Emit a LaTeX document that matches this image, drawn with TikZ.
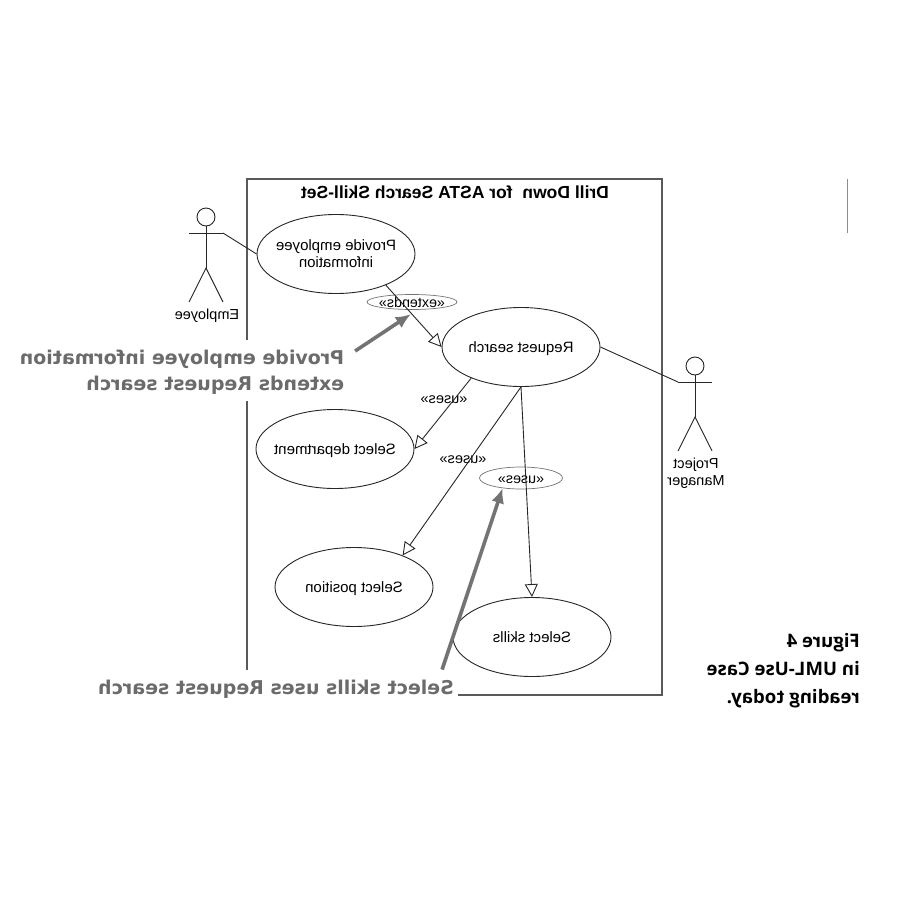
\documentclass[tikz,border=0pt]{standalone}
\usepackage{graphicx}
\usepackage{fontspec}
\setmainfont{Liberation Sans}
\newfontfamily\hintfont{DejaVu Sans}
\newfontfamily\notefont{Open Sans}
\usetikzlibrary{arrows.meta, shapes.geometric}

% mirrored text, centred or flush left before the flip
\newcommand{\flipc}[1]{\raisebox{-2pt}[\height][\depth]{\reflectbox{\begin{tabular}{@{}c@{}}#1\end{tabular}}}}
\newcommand{\flipl}[1]{\raisebox{-2pt}[\height][\depth]{\reflectbox{\begin{tabular}{@{}l@{}}#1\end{tabular}}}}

\tikzset{
    usecase/.style={draw=black!85, line width=0.9pt, ellipse, inner sep=-5pt, minimum width=158pt, minimum height=79pt, font=\fontsize{15}{17}\selectfont},
    marked/.style={draw=black!55, line width=0.7pt, ellipse, inner sep=-5pt, font=\fontsize{14.3}{16}\selectfont},
    plain/.style={inner sep=0pt, font=\fontsize{14.5}{17}\selectfont},
    hint/.style={fill=white, inner sep=4pt, text=black!58, font=\hintfont\bfseries\fontsize{19}{26.5}\selectfont},
    hintarrow/.style={draw=black!55, line width=3.6pt, -{Latex[length=15pt,width=13pt]}},
    link/.style={draw=black!85, line width=0.9pt},
    assoc/.style={link, -{Triangle[open,length=13pt,width=13pt]}},
    actor/.pic={
        \node[draw=black!85, line width=0.9pt, circle, inner sep=0pt, minimum size=18pt] (-head) at (0,0) {};
        \coordinate (-hip) at (0,51);
        \coordinate (-larm) at (-17,16);
        \coordinate (-rarm) at (17,16);
        \draw[link] (-head) -- (-hip);
        \draw[link] (-larm) -- (-rarm);
        \draw[link] (-17,85) -- (-hip) -- (17,85);
    }
}

\begin{document}
\begin{tikzpicture}[x=1pt, y=-1pt]
    \useasboundingbox (0,0) rectangle (900,900);
    % System frame
    \node[draw=black!65, line width=1.2pt, inner sep=0pt, minimum width=415pt, minimum height=516pt] (system) at (454.5,437) {};
    \node[plain, font=\bfseries\fontsize{17.5}{20}\selectfont] (title) at (455,192) {\flipc{Drill Down\ \ for ASTA Search Skill-Set}};

    % Use cases
    \node[usecase] (provide) at (336,254) {\flipc{Provide employee\\information}};
    \node[usecase] (request) at (521,347) {\flipc{Request search}};
    \node[usecase] (dept) at (335,449) {\flipc{Select department}};
    \node[usecase] (position) at (354,587) {\flipc{Select position}};
    \node[usecase] (skills) at (532,637) {\flipc{Select skills}};

    % Stereotypes
    \node[marked, minimum width=90pt, minimum height=15pt] (extends) at (412,302) {\flipc{«extends»}};
    \node[marked, minimum width=83pt, minimum height=22pt] (usesmark) at (521,478) {\flipc{«uses»}};
    \node[plain] (usesdept) at (444,398) {\flipc{«uses»}};
    \node[plain] (usespos) at (463,458) {\flipc{«uses»}};

    % Actors
    \pic (emp) at (206,217) {actor};
    \pic (pm) at (695,366) {actor};
    \node[plain] (emplabel) at (207,314) {\flipc{Employee}};
    \node[plain] (pmlabel) at (696,472) {\flipc{Project\\Manager}};
    \draw[link] (emp-rarm) -- (provide.west);
    \draw[link] (pm-larm) -- (request.east);

    % Associations
    \draw[assoc] (provide.-32) -- (request.west);
    \draw[assoc] (request.212) -- (dept.east);
    \draw[assoc] (request.south) -- (position.33);
    \draw[assoc] (request.south) -- (skills.north);

    % Hints on top of the frame
    \node[hint] (hintext) at (182,370) {\flipl{Provide employee information\\extends Request search}};
    \node[hint] (hintuse) at (276,687) {\flipl{Select skills uses Request search}};
    \draw[hintarrow, shorten <=8pt, shorten >=8pt] (hintext.5) -- (extends.-55);
    \draw[hintarrow] (hintuse.6.7) -- (usesmark.209);

    % Side note
    \node[plain, anchor=east, font=\notefont\bfseries\fontsize{18.6}{28}\selectfont] (note) at (860,668) {\flipl{Figure 4\\in UML-Use Case\\reading today.}};
    \coordinate (marktop) at (847,179);
    \coordinate (markend) at (847,233);
    \draw[draw=black!45] (marktop) -- (markend);
\end{tikzpicture}
\end{document}
